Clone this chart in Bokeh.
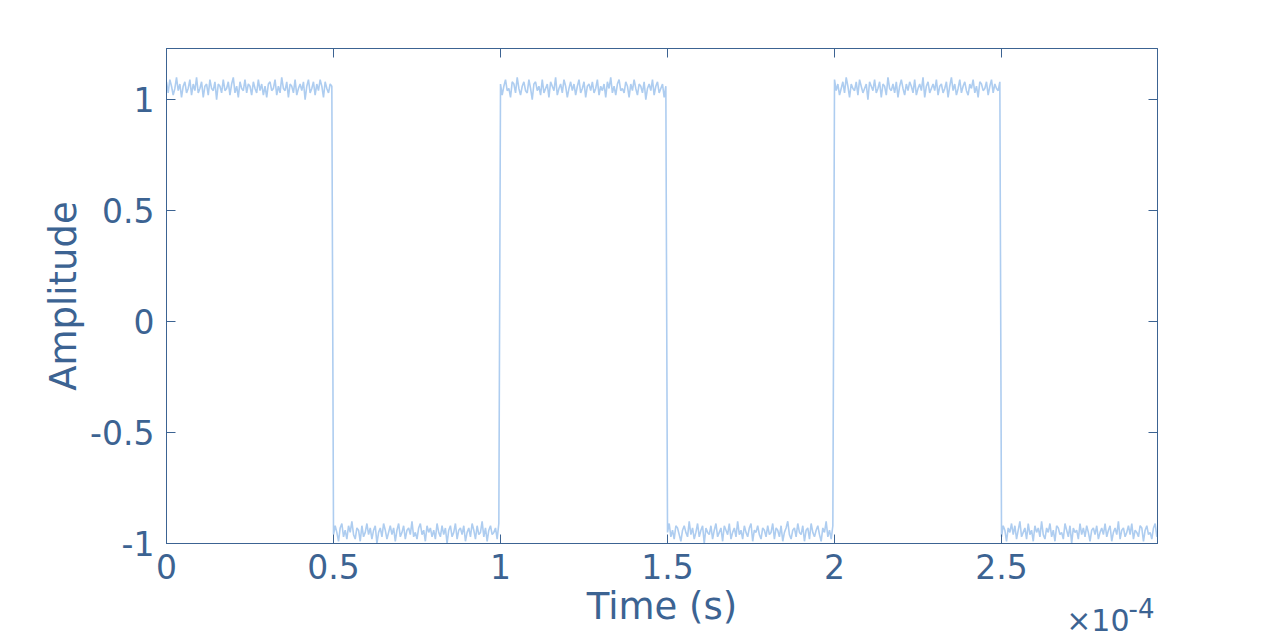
from bokeh.plotting import figure
from bokeh.models import Range1d, LinearAxis, Label, FixedTicker, NumeralTickFormatter
from bokeh.embed import file_html
from bokeh.resources import INLINE

# ---- data -------------------------------------------------------------
# time axis shown in units of 1e-4 s (axis carries the x10^-4 multiplier)
half_period = 0.5            # x 1e-4 s
samples_per_half = 100
levels = [1.05, -0.95, 1.05, -0.95, 1.05, -0.95]   # square-wave level of each half period
# noise, in hundredths of amplitude, one list per half period
noise_1 = [3,-2,4,1,-3,0,5,-1,2,-4,1,3,-2,0,4,-3,2,-1,5,-2,
           0,3,-4,1,2,-3,4,0,-1,3,-5,2,1,-2,4,-1,0,3,-3,2,
           5,-2,1,-4,3,0,-1,4,-2,2,1,-3,3,0,-2,4,-1,2,-3,1,
           -4,2,3,-1,0,4,-3,1,-2,5,0,-1,3,-4,2,1,-2,4,-3,0,
           2,-1,3,-5,1,4,-2,0,3,-3,2,-1,4,1,-4,3,0,-2,2,1]
noise_2 = [-1,3,0,-4,2,4,-2,1,-3,3,0,5,-1,-3,2,1,-4,3,-2,0,
           4,-1,2,-3,1,3,-5,0,2,-2,4,1,-3,0,3,-1,2,-4,1,4,
           -2,0,3,-3,1,2,-1,5,-2,0,-3,2,4,-1,1,-4,3,0,2,-2,
           1,-3,4,0,-2,3,-1,2,-5,1,3,-2,0,4,-3,1,2,-1,3,-4,
           0,2,-2,4,1,-3,3,-1,0,5,-2,2,-4,1,3,-1,0,2,-3,4]
noise_3 = [2,-3,1,4,-1,0,-4,3,2,-2,5,0,-3,1,3,-1,-2,4,0,-5,
           2,3,-1,1,-3,4,-2,0,2,-4,3,1,-1,5,-3,0,2,-2,4,1,
           -4,0,3,-1,2,-3,1,4,-2,0,3,-4,1,2,-1,3,-2,0,4,-3,
           1,-1,2,-4,3,0,5,-2,1,-3,2,4,-1,0,-2,3,1,-4,2,-1,
           4,0,-3,2,1,-2,3,-5,0,2,-1,4,-3,1,3,-2,0,2,-4,1]
noise_4 = [0,4,-2,1,-3,3,2,-1,-4,1,3,0,-2,5,-1,2,-3,0,4,-2,
           1,3,-5,2,0,-1,3,-3,1,4,-2,0,2,-4,3,1,-1,4,-3,0,
           2,-2,5,-1,1,-3,3,0,-2,2,4,-4,1,0,3,-1,-3,2,1,-2,
           3,-1,0,4,-3,2,1,-2,3,-4,0,2,5,-1,-3,1,2,-2,4,0,
           -1,3,-4,1,2,-3,4,0,-2,1,3,-1,-4,2,0,5,-2,1,-3,3]
noise_5 = [4,-1,2,-3,0,3,-2,5,1,-4,2,0,-1,3,-3,4,1,-2,0,2,
           -5,3,1,-1,4,-2,0,3,-4,2,1,-3,5,0,-1,2,-2,3,-4,1,
           4,0,-3,2,-1,3,1,-2,4,-3,0,2,-1,5,-4,1,3,-2,0,2,
           -1,4,-3,1,2,-2,0,3,-4,1,5,-1,2,-3,0,4,-2,1,3,-1,
           -3,2,0,4,-2,1,-4,3,2,-1,0,3,-3,1,4,-2,2,0,-1,3]
noise_6 = [-2,3,1,-4,2,0,4,-1,3,-3,1,5,-2,0,2,-3,4,-1,1,-4,
           3,0,2,-2,5,-1,-3,2,0,4,-2,1,-4,3,2,-1,0,-3,4,1,
           -2,3,-5,2,0,1,-3,4,-1,2,-2,3,0,-4,1,2,-1,3,-3,0,
           2,-1,4,-2,1,3,-4,0,2,-1,5,-3,1,2,-2,0,3,-1,4,-3,
           1,0,-2,3,2,-4,1,3,-1,0,-3,2,4,-2]
segments = [noise_1, noise_2, noise_3, noise_4, noise_5, noise_6]

x_ticks = [0, 0.5, 1, 1.5, 2, 2.5]
y_ticks = [-1, -0.5, 0, 0.5, 1]
x_end = 2.967
y_start, y_end = -1.0, 1.23

# ---- build sampled signal -------------------------------------------
dt = half_period / samples_per_half
t, amp = [], []
for k, seg in enumerate(segments):
    for j, n in enumerate(seg):
        t.append(k * half_period + j * dt)
        amp.append(levels[k] + n * 0.01)

TXT = "#3c6392"
LINE = "#aecdf0"
FONT = "DejaVu Sans"

p = figure(width=1272, height=643, output_backend="svg", toolbar_location=None,
           x_range=Range1d(0, x_end), y_range=Range1d(y_start, y_end),
           min_border_left=166, min_border_right=115, min_border_top=48, min_border_bottom=100)
p.line(t, amp, line_color=LINE, line_width=1.6)

p.xgrid.visible = False
p.ygrid.visible = False
p.outline_line_color = TXT
p.outline_line_width = 1
p.background_fill_color = "white"
p.border_fill_color = "white"

p.xaxis.ticker = FixedTicker(ticks=x_ticks)
p.yaxis.ticker = FixedTicker(ticks=y_ticks)
p.xaxis.formatter = NumeralTickFormatter(format="0.[0]")
p.yaxis.formatter = NumeralTickFormatter(format="0.[0]")
p.xaxis.axis_label = "Time (s)"
p.yaxis.axis_label = "Amplitude"

for ax in (p.xaxis[0], p.yaxis[0]):
    ax.axis_line_color = TXT
    ax.major_tick_line_color = TXT
    ax.major_tick_in = 9
    ax.major_tick_out = 0
    ax.minor_tick_line_color = None
    ax.major_label_text_color = TXT
    ax.major_label_text_font = FONT
    ax.major_label_text_font_size = "33px"
    ax.axis_label_text_color = TXT
    ax.axis_label_text_font = FONT
    ax.axis_label_text_font_size = "37px"
    ax.axis_label_text_font_style = "normal"

p.xaxis.major_label_standoff = 10
p.xaxis.axis_label_standoff = 3
p.yaxis.major_label_standoff = 12
p.yaxis.axis_label_standoff = 2

# mirrored ticks on top and right (no labels)
top_ax = LinearAxis(ticker=FixedTicker(ticks=x_ticks),
                    major_label_overrides={v: "" for v in x_ticks})
right_ax = LinearAxis(ticker=FixedTicker(ticks=y_ticks),
                      major_label_overrides={v: "" for v in y_ticks})
for ax in (top_ax, right_ax):
    ax.axis_line_color = TXT
    ax.major_tick_line_color = TXT
    ax.major_tick_in = 9
    ax.major_tick_out = 0
    ax.minor_tick_line_color = None
    ax.major_label_standoff = 0
p.add_layout(top_ax, "above")
p.add_layout(right_ax, "right")

# exponent multiplier (placed in a side panel so it is not clipped to the frame)
p.add_layout(Label(x=x_end, y=y_start, text="\u00d710", x_offset=-28, y_offset=-77,
                   text_align="right", text_baseline="alphabetic", text_color=TXT,
                   text_font=FONT, text_font_size="30px"), "right")
p.add_layout(Label(x=x_end, y=y_start, text="-4", x_offset=-29, y_offset=-64,
                   text_align="left", text_baseline="alphabetic", text_color=TXT,
                   text_font=FONT, text_font_size="26px"), "right")

open("out.html", "w").write(file_html(p, INLINE))
